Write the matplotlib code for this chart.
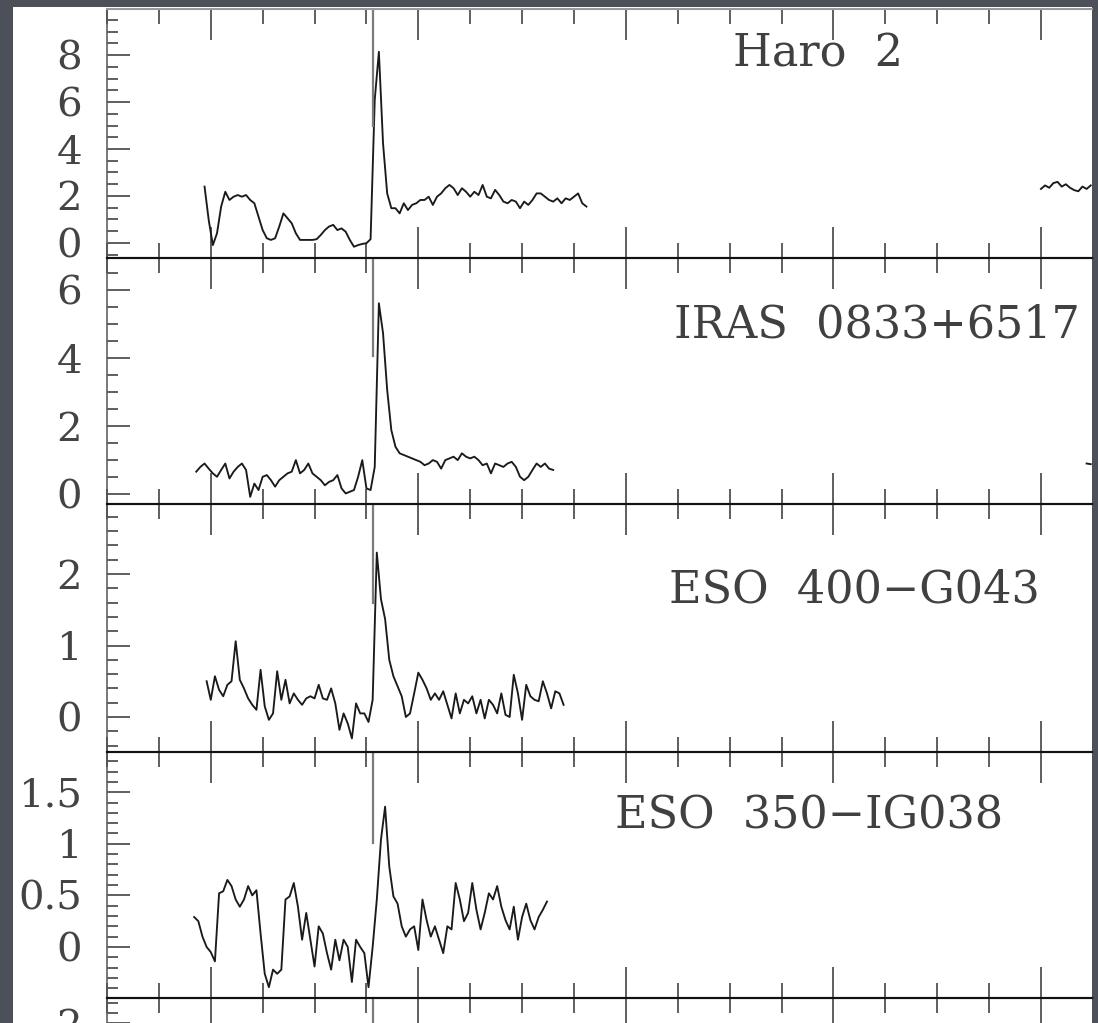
import numpy as np
import matplotlib.pyplot as plt
from matplotlib.patches import Rectangle
from matplotlib.ticker import MultipleLocator, FormatStrFormatter

# wavelength grid (Angstrom) for each spectrum: start and sampling step
step = 0.2

haro2_start = 1209.7
haro2_flux = [2.40, 0.98, -0.09, 0.41, 1.55, 2.18, 1.83, 1.97, 2.04, 1.97,
              2.04, 1.83, 1.69, 1.12, 0.55, 0.20, 0.13, 0.20, 0.70, 1.26,
              1.05, 0.84, 0.41, 0.13, 0.13, 0.13, 0.13, 0.16, 0.34, 0.55,
              0.70, 0.77, 0.55, 0.62, 0.48, 0.13, -0.16, -0.09, -0.04, -0.01,
              0.16, 6.09, 8.14, 4.24, 2.11, 1.48, 1.48, 1.26, 1.69, 1.40,
              1.62, 1.69, 1.83, 1.83, 1.97, 1.62, 1.97, 2.11, 2.33, 2.47,
              2.33, 2.04, 2.33, 2.18, 1.97, 2.18, 2.04, 2.47, 1.97, 1.90,
              2.26, 2.04, 1.76, 1.69, 1.83, 1.76, 1.48, 1.76, 1.62, 1.83,
              2.11, 2.11, 1.97, 1.83, 1.76, 1.90, 1.69, 1.90, 1.83, 1.97,
              2.11, 1.69, 1.55]
# second grating setting, only its start falls in the window
haro2_red_start = 1250.0
haro2_red_flux = [2.30, 2.45, 2.35, 2.55, 2.60, 2.40, 2.50, 2.35, 2.25,
                  2.20, 2.40, 2.30, 2.45]

iras_start = 1209.3
iras_flux = [0.66, 0.80, 0.90, 0.75, 0.61, 0.51, 0.71, 0.90, 0.46, 0.66,
             0.80, 0.90, 0.71, -0.08, 0.31, 0.12, 0.51, 0.56, 0.41, 0.22,
             0.41, 0.51, 0.61, 0.66, 1.00, 0.61, 0.71, 0.90, 0.61, 0.51,
             0.41, 0.26, 0.36, 0.41, 0.56, 0.17, 0.02, 0.07, 0.12, 0.51,
             1.00, 0.17, 0.12, 0.80, 5.61, 4.73, 3.06, 1.88, 1.39, 1.20,
             1.15, 1.10, 1.05, 1.00, 0.95, 0.85, 0.90, 1.00, 0.95, 0.75,
             1.00, 1.05, 1.10, 1.00, 1.20, 1.10, 1.05, 1.10, 1.00, 0.85,
             0.90, 0.61, 0.90, 0.85, 0.80, 0.90, 0.95, 0.80, 0.51, 0.41,
             0.51, 0.71, 0.90, 0.80, 0.90, 0.75, 0.71]
iras_red_start = 1252.2
iras_red_flux = [0.90, 0.88]

eso400_start = 1209.8
eso400_flux = [0.50, 0.24, 0.57, 0.38, 0.29, 0.45, 0.50, 1.06, 0.52, 0.40,
               0.26, 0.17, 0.10, 0.66, 0.15, -0.04, 0.05, 0.64, 0.24, 0.52,
               0.19, 0.33, 0.24, 0.17, 0.26, 0.29, 0.26, 0.45, 0.26, 0.24,
               0.40, 0.19, -0.18, 0.05, -0.09, -0.30, 0.19, 0.05, 0.05, -0.07,
               0.24, 2.30, 1.65, 1.37, 0.80, 0.57, 0.43, 0.29, 0.00, 0.05,
               0.33, 0.62, 0.52, 0.40, 0.24, 0.33, 0.24, 0.36, 0.17, -0.02,
               0.33, 0.05, 0.24, 0.19, 0.29, 0.05, 0.24, -0.02, 0.24, 0.17,
               0.05, 0.33, 0.03, 0.00, 0.59, 0.33, -0.04, 0.45, 0.29, 0.24,
               0.22, 0.50, 0.33, 0.12, 0.36, 0.33, 0.17]

eso350_start = 1209.2
eso350_flux = [0.29, 0.25, 0.10, 0.00, -0.05, -0.14, 0.52, 0.54, 0.65, 0.59,
               0.46, 0.39, 0.46, 0.59, 0.50, 0.55, 0.13, -0.26, -0.39, -0.22,
               -0.26, -0.22, 0.46, 0.49, 0.62, 0.39, 0.07, 0.33, 0.07, -0.19,
               0.20, 0.13, -0.06, -0.22, 0.07, -0.13, 0.07, 0.00, -0.34, 0.07,
               0.00, -0.06, -0.39, 0.00, 0.46, 1.04, 1.36, 0.78, 0.49, 0.42,
               0.20, 0.10, 0.17, 0.20, -0.03, 0.46, 0.26, 0.10, 0.20, 0.07,
               -0.06, 0.20, 0.17, 0.62, 0.46, 0.25, 0.33, 0.62, 0.36, 0.17,
               0.33, 0.52, 0.46, 0.59, 0.39, 0.26, 0.17, 0.39, 0.07, 0.29,
               0.42, 0.26, 0.17, 0.29, 0.36, 0.44]

names = ['Haro  2', 'IRAS  0833+6517', 'ESO  400\u2212G043', 'ESO  350\u2212IG038']
lya_line = 1217.8


def spectrum(start, flux):
    flux = np.array(flux)
    return start + step * np.arange(len(flux)), flux


segments = [
    [spectrum(haro2_start, haro2_flux), spectrum(haro2_red_start, haro2_red_flux)],
    [spectrum(iras_start, iras_flux), spectrum(iras_red_start, iras_red_flux)],
    [spectrum(eso400_start, eso400_flux)],
    [spectrum(eso350_start, eso350_flux)],
    [],
]

# panel layout (pixels from the top of the page)
W, H = 1098, 1023
edges = [9, 258, 504, 752, 998, 1245]
ylims = [(-0.64, 9.96), (-0.29, 6.94), (-0.49, 2.98), (-0.495, 1.89), (-2.44, 2.5)]
ymajor = [2, 2, 1, 0.5, 1]
yminor = [0.5, 0.5, 0.2, 0.1, 0.2]
line_bottom = [0.53, 0.60, 0.60, 0.63, 0.60]
label_pos = [(0.808, 0.771), (0.988, 0.675), (0.947, 0.601), (0.910, 0.691), None]

fig = plt.figure(figsize=(W / 100, H / 100), dpi=100, facecolor='#4c5059')
fig.add_artist(Rectangle((13 / W, 0), (1092 - 13) / W, (H - 7) / H,
                         transform=fig.transFigure, facecolor='white',
                         edgecolor='none', zorder=0))

x0, x1 = 107, 1092
for i in range(5):
    top, bot = edges[i], edges[i + 1]
    ax = fig.add_axes([x0 / W, 1 - bot / H, (x1 - x0) / W, (bot - top) / H])
    ax.set_facecolor('none')
    for x, f in segments[i]:
        ax.plot(x, f, color='#1a1a1a', lw=1.35)
    ax.axvline(lya_line, ymin=line_bottom[i], ymax=1, color='#7a7a7a', lw=1.6)

    ax.set_xlim(1205, 1252.46)
    ax.set_ylim(*ylims[i])
    ax.xaxis.set_major_locator(MultipleLocator(10))
    ax.xaxis.set_minor_locator(MultipleLocator(2.5))
    ax.yaxis.set_major_locator(MultipleLocator(ymajor[i]))
    ax.yaxis.set_minor_locator(MultipleLocator(yminor[i]))
    ax.yaxis.set_major_formatter(FormatStrFormatter('%g'))
    ax.set_xticklabels([])

    ax.tick_params(axis='x', which='both', direction='in', top=True, bottom=True,
                   color='#333333', width=1.1)
    ax.tick_params(axis='x', which='major', length=22)
    ax.tick_params(axis='x', which='minor', length=11)
    ax.tick_params(axis='y', which='both', direction='in', left=True, right=False,
                   color='#333333', width=1.1)
    ax.tick_params(axis='y', which='major', length=16.5, pad=18,
                   labelsize=29, labelcolor='#444444')
    ax.tick_params(axis='y', which='minor', length=8)
    for lab in ax.get_yticklabels():
        lab.set_family('DejaVu Serif')

    ax.spines['right'].set_visible(False)
    ax.spines['left'].set_color('#555555')
    ax.spines['left'].set_linewidth(1.1)
    ax.spines['bottom'].set_color('#111111')
    ax.spines['bottom'].set_linewidth(1.5)
    ax.spines['top'].set_color('#111111' if i > 0 else '#9a9a9a')
    ax.spines['top'].set_linewidth(1.5)

    if label_pos[i] is not None:
        ax.text(label_pos[i][0], label_pos[i][1], names[i], transform=ax.transAxes,
                ha='right', va='baseline', fontsize=32, family='DejaVu Serif',
                color='#404040')

fig.savefig('out.png', dpi=100, facecolor=fig.get_facecolor())
